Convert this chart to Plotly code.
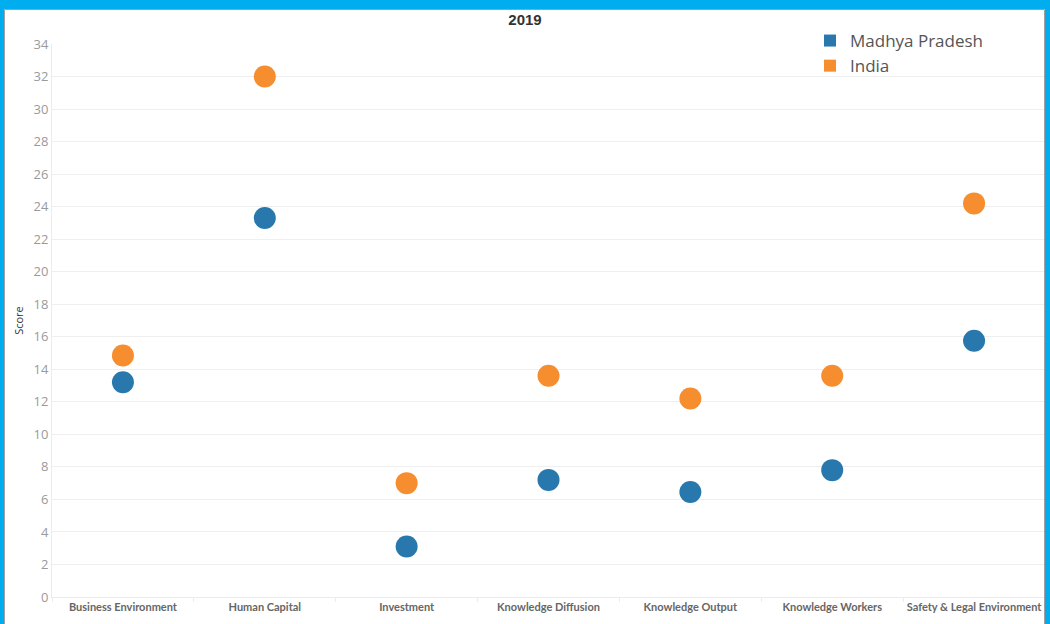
import plotly.graph_objects as go

# Innovation index pillar scores, 2019
pillars = [
    "Business Environment",
    "Human Capital",
    "Investment",
    "Knowledge Diffusion",
    "Knowledge Output",
    "Knowledge Workers",
    "Safety & Legal Environment",
]
madhya_pradesh = [13.2, 23.3, 3.1, 7.2, 6.45, 7.8, 15.75]
india = [14.85, 32.0, 7.0, 13.6, 12.2, 13.6, 24.2]
y_ticks = list(range(0, 35, 2))

BLUE = "#2878ae"
ORANGE = "#f68d2e"
FRAME = "#00adef"

W, H = 1050, 624
ML, MR, MT, MB = 52, 5, 44, 27
PW, PH = W - ML - MR, H - MT - MB


def px_x(v):
    return (v - ML) / PW


def px_y(v):
    return 1 - (v - MT) / PH


fig = go.Figure()

for name, vals, col in [("Madhya Pradesh", madhya_pradesh, BLUE), ("India", india, ORANGE)]:
    fig.add_trace(go.Scatter(
        x=pillars, y=vals, mode="markers", name=name, showlegend=False,
        marker=dict(size=22, color=col, line=dict(width=0)),
        hovertemplate="%{x}<br>" + name + ": %{y}<extra></extra>",
    ))
    # square swatch for the legend
    fig.add_trace(go.Scatter(
        x=[None], y=[None], mode="markers", name=name,
        marker=dict(size=15, color=col, symbol="square", line=dict(width=0)),
    ))

# outer frame: cyan band with a thin grey inner edge
shapes = [
    dict(type="rect", x0=px_x(0), x1=px_x(W), y0=px_y(0), y1=px_y(9),
         fillcolor=FRAME, line=dict(width=0)),
    dict(type="rect", x0=px_x(0), x1=px_x(4), y0=px_y(0), y1=px_y(H),
         fillcolor=FRAME, line=dict(width=0)),
    dict(type="rect", x0=px_x(1045), x1=px_x(W), y0=px_y(0), y1=px_y(H),
         fillcolor=FRAME, line=dict(width=0)),
    dict(type="line", x0=px_x(4.5), x1=px_x(1044.5), y0=px_y(9.5), y1=px_y(9.5),
         line=dict(color="#a0a0a0", width=1)),
    dict(type="line", x0=px_x(4.5), x1=px_x(4.5), y0=px_y(9.5), y1=px_y(H),
         line=dict(color="#a0a0a0", width=1)),
    dict(type="line", x0=px_x(1044.5), x1=px_x(1044.5), y0=px_y(9.5), y1=px_y(H),
         line=dict(color="#a0a0a0", width=1)),
]
for s in shapes:
    s.update(xref="paper", yref="paper", layer="above")

fig.update_layout(
    width=W, height=H,
    margin=dict(l=ML, r=MR, t=MT, b=MB, pad=0, autoexpand=False),
    paper_bgcolor="white", plot_bgcolor="white",
    title=dict(text="<b>2019</b>", x=0.5, xref="container", xanchor="center",
               y=1 - 20 / H, yref="container", yanchor="middle",
               font=dict(family="Liberation Sans, Arial", size=15, color="#333333")),
    shapes=shapes,
    showlegend=True,
    legend=dict(
        x=px_x(810), y=px_y(23), xanchor="left", yanchor="top",
        bgcolor="rgba(0,0,0,0)",
        font=dict(family="Open Sans", size=17, color="#555555"),
        itemsizing="constant",
    ),
    xaxis=dict(
        type="category", categoryorder="array", categoryarray=pillars,
        range=[-0.5, len(pillars) - 0.5], autorange=False,
        automargin=False, tickangle=0,
        showgrid=False, zeroline=False,
        showline=True, linecolor="#ececec", linewidth=1,
        ticks="outside", tickson="boundaries", ticklen=4, tickcolor="#ececec",
        tickfont=dict(family="Lato", size=11, color="#666666", weight="bold"),
    ),
    yaxis=dict(
        range=[0, 34], tickvals=y_ticks, automargin=False,
        showgrid=True, gridcolor="#efefef", gridwidth=1,
        zeroline=False, showline=True, linecolor="#ececec", linewidth=1,
        ticks="", tickfont=dict(family="Open Sans", size=13, color="#9a9a9a"),
        title=dict(text="Score", standoff=7,
                   font=dict(family="Open Sans", size=11, color="#333333")),
    ),
)

fig.write_html("out.html")
